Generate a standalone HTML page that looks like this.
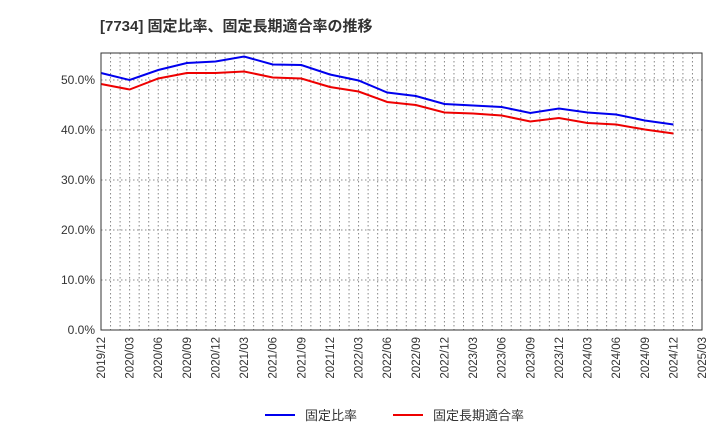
<!DOCTYPE html>
<html><head><meta charset="utf-8"><style>
body{margin:0;background:#fff;font-family:"Liberation Sans","Noto Sans CJK JP",sans-serif}
</style></head><body>
<svg width="720" height="440" xmlns="http://www.w3.org/2000/svg">
<text x="100" y="31" font-size="15" font-weight="bold" fill="#333">[7734]  固定比率、固定長期適合率の推移</text>
<g id="grid"></g>
<g id="ticks"></g>
<g id="series"></g>
<rect x="101" y="53" width="601" height="277" fill="none" stroke="#333"/>
<g>
<g><line x1="265" y1="415" x2="295" y2="415" stroke="#0000ee" stroke-width="2"/><text x="305" y="420" font-size="13" fill="#333">固定比率</text></g>
<g><line x1="393" y1="415" x2="423" y2="415" stroke="#ee0000" stroke-width="2"/><text x="433" y="420" font-size="13" fill="#333">固定長期適合率</text></g>
</g>
</svg>
<script>
const xLabels=["2019/12","2020/03","2020/06","2020/09","2020/12","2021/03","2021/06","2021/09","2021/12","2022/03","2022/06","2022/09","2022/12","2023/03","2023/06","2023/09","2023/12","2024/03","2024/06","2024/09","2024/12","2025/03"];
const yTicks=[0,10,20,30,40,50];
const fixedRatio=[51.4,50.0,52.0,53.4,53.7,54.7,53.1,53.0,51.1,49.9,47.5,46.8,45.2,44.9,44.6,43.4,44.3,43.5,43.1,41.9,41.1];
const fixedLongTermRatio=[49.2,48.1,50.3,51.4,51.4,51.7,50.5,50.3,48.6,47.7,45.6,45.0,43.5,43.3,42.9,41.7,42.4,41.4,41.1,40.1,39.3];
const NS="http://www.w3.org/2000/svg";
const x0=101,x1=702,y0=330,yTop=53,ymax=55.4;
const xq=i=>x0+(x1-x0)*i/(xLabels.length-1);
const yv=v=>y0-(y0-yTop)*v/ymax;
function mk(tag,attrs,parent){const e=document.createElementNS(NS,tag);for(const k in attrs)e.setAttribute(k,attrs[k]);parent.appendChild(e);return e;}
const grid=document.getElementById('grid'),ticks=document.getElementById('ticks'),series=document.getElementById('series');
const months=(xLabels.length-1)*3;
for(let m=1;m<months;m++){const x=x0+(x1-x0)*m/months;
const l=mk('line',{x1:x,x2:x,y1:yTop,y2:y0,stroke:'#888','stroke-dasharray':'1.5,2.5'},grid);

}
yTicks.forEach(v=>{const y=yv(v);
if(v>0){const l=mk('line',{x1:x0,x2:x1,y1:y,y2:y,stroke:'#888','stroke-dasharray':'1.5,2.5'},grid);

}
const t=mk('text',{x:x0-6,y:y+4,'font-size':12,'text-anchor':'end',fill:'#333'},ticks);t.textContent=v.toFixed(1)+'%';

});
xLabels.forEach((s,i)=>{const x=xq(i);
const t=mk('text',{x:x+4,y:337,'font-size':11.5,'text-anchor':'end',fill:'#333',transform:`rotate(-90 ${x+4} 337)`},ticks);t.textContent=s;

});
function line(data,color,name){const p=mk('polyline',{points:data.map((v,i)=>xq(i)+','+yv(v)).join(' '),fill:'none',stroke:color,'stroke-width':2},series);

}
line(fixedRatio,'#0000ee','fixed-ratio-line');
line(fixedLongTermRatio,'#ee0000','fixed-long-term-ratio-line');
</script>
</body></html>
